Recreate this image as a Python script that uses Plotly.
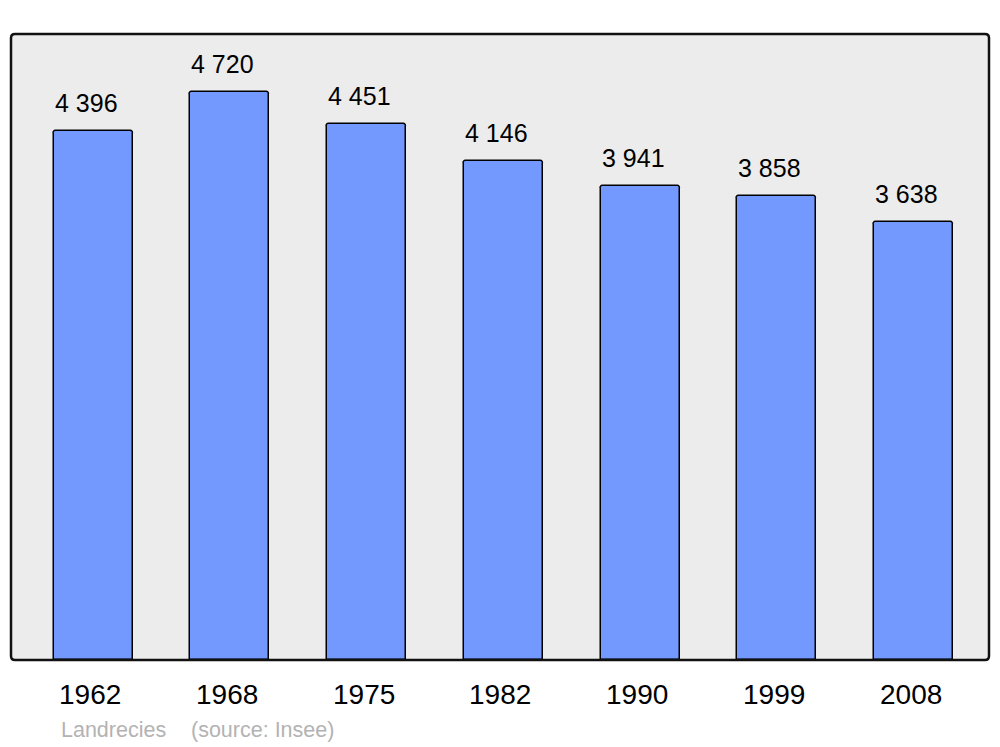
import plotly.graph_objects as go

years = ["1962", "1968", "1975", "1982", "1990", "1999", "2008"]
population = [4396, 4720, 4451, 4146, 3941, 3858, 3638]
labels = ["4 396", "4 720", "4 451", "4 146", "3 941", "3 858", "3 638"]
commune = "Landrecies"
source = "(source: Insee)"

W, H = 1000, 747
L, R, T, B = 11, 989, 34, 660
FONT = "Liberation Sans, Arial, sans-serif"

def px(p):
    return (p - L) / (R - L)

def py(p):
    return (B - p) / (B - T)

fig = go.Figure()
fig.add_trace(go.Bar(
    x=list(range(len(years))), y=population,
    width=0.578,
    marker=dict(color="#7399ff", line=dict(color="#000000", width=1.5), cornerradius=3),
    hoverinfo="skip",
))

annotations = []
for i, (v, t) in enumerate(zip(population, labels)):
    annotations.append(dict(x=i, y=v, xref="x", yref="y", text=t, showarrow=False,
                            yanchor="middle", xanchor="center", yshift=28, xshift=-7,
                            font=dict(size=25, color="#000000", family=FONT)))
for i, yr in enumerate(years):
    annotations.append(dict(x=i, y=py(695), xref="x", yref="paper", text=yr, showarrow=False,
                            yanchor="middle", xanchor="center", xshift=-3,
                            font=dict(size=28, color="#000000", family=FONT)))
annotations.append(dict(x=px(59), y=py(730), xref="paper", yref="paper", text=commune,
                        showarrow=False, xanchor="left", yanchor="middle",
                        font=dict(size=21.5, color="#b3b3b3", family=FONT)))
annotations.append(dict(x=px(189), y=py(730), xref="paper", yref="paper", text=source,
                        showarrow=False, xanchor="left", yanchor="middle",
                        font=dict(size=21.5, color="#b3b3b3", family=FONT)))

r = 4
rx = r / (R - L)
ry = r / (B - T)
path = (f"M {rx},0 L {1-rx},0 Q 1,0 1,{ry} L 1,{1-ry} Q 1,1 {1-rx},1 "
        f"L {rx},1 Q 0,1 0,{1-ry} L 0,{ry} Q 0,0 {rx},0 Z")

fig.update_layout(
    width=W, height=H,
    margin=dict(l=L, r=W - R, t=T, b=H - B),
    paper_bgcolor="#ffffff",
    plot_bgcolor="#ececec",
    showlegend=False,
    bargap=0,
    font=dict(family=FONT),
    xaxis=dict(range=[-0.6, 6.551], showticklabels=False,
               showgrid=False, zeroline=False, ticks="", fixedrange=True),
    yaxis=dict(range=[0, 5202], showgrid=False, zeroline=False, showticklabels=False,
               ticks="", fixedrange=True),
    annotations=annotations,
    shapes=[dict(type="path", xref="paper", yref="paper", path=path,
                 line=dict(color="#111111", width=2.5), fillcolor="rgba(0,0,0,0)", layer="above")],
)

fig.write_html("out.html", config={"displayModeBar": False},
               post_script="document.body.style.margin='0';document.body.style.overflow='hidden';")
